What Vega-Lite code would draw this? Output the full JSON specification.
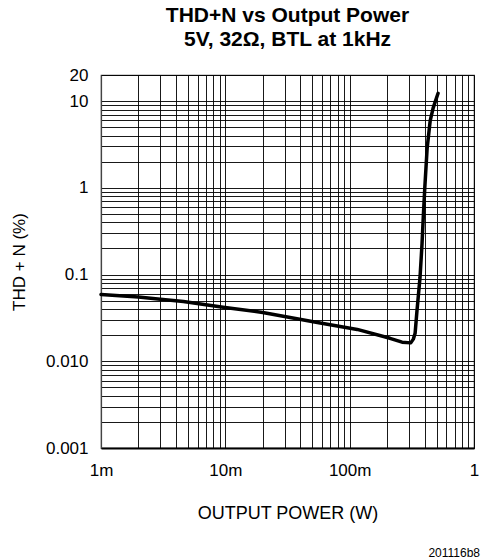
{
  "$schema": "https://vega.github.io/schema/vega-lite/v6.json",
  "width": 373,
  "height": 373,
  "autosize": {"type": "none"},
  "padding": {"left": 101, "top": 75, "right": 11, "bottom": 112},
  "background": "white",
  "config": {
    "font": "Liberation Sans",
    "view": {"stroke": "#444", "strokeWidth": 1.2}
  },
  "title": {
    "text": ["THD+N vs Output Power", "5V, 32Ω, BTL at 1kHz"],
    "font": "Liberation Sans",
    "fontSize": 21,
    "fontWeight": "bold",
    "color": "#000",
    "anchor": "middle",
    "frame": "group",
    "lineHeight": 24,
    "offset": 16
  },
  "datasets": {
    "thd": [
      {"power": 0.001, "thdn": 0.059},
      {"power": 0.002, "thdn": 0.055},
      {"power": 0.003, "thdn": 0.052},
      {"power": 0.0046, "thdn": 0.049},
      {"power": 0.0096, "thdn": 0.042},
      {"power": 0.02, "thdn": 0.0366},
      {"power": 0.055, "thdn": 0.028},
      {"power": 0.115, "thdn": 0.0233},
      {"power": 0.211, "thdn": 0.0184},
      {"power": 0.264, "thdn": 0.0166},
      {"power": 0.31, "thdn": 0.0163},
      {"power": 0.325, "thdn": 0.018},
      {"power": 0.336, "thdn": 0.021},
      {"power": 0.348, "thdn": 0.0386},
      {"power": 0.368, "thdn": 0.0925},
      {"power": 0.382, "thdn": 0.227},
      {"power": 0.392, "thdn": 0.5},
      {"power": 0.402, "thdn": 1.0},
      {"power": 0.42, "thdn": 2.88},
      {"power": 0.444, "thdn": 5.9},
      {"power": 0.469, "thdn": 8.3},
      {"power": 0.514, "thdn": 12.3}
    ],
    "code": [
      {"power": 1, "thdn": 0.001, "label": "201116b8"}
    ]
  },
  "layer": [
    {
      "data": {"name": "thd"},
      "mark": {"type": "line", "color": "#000", "strokeWidth": 3.5, "strokeJoin": "round", "strokeCap": "round"},
      "encoding": {
        "x": {
          "field": "power",
          "type": "quantitative",
          "scale": {"type": "log", "domain": [0.001, 1], "nice": false},
          "axis": {
            "title": "OUTPUT POWER (W)",
            "titleFont": "Liberation Sans",
            "titleFontSize": 18,
            "titleFontWeight": "normal",
            "titleColor": "#000",
            "titlePadding": 26,
            "values": [0.001, 0.002, 0.003, 0.004, 0.005, 0.006, 0.007, 0.008, 0.009, 0.01, 0.02, 0.03, 0.04, 0.05, 0.06, 0.07, 0.08, 0.09, 0.1, 0.2, 0.3, 0.4, 0.5, 0.6, 0.7, 0.8, 0.9, 1],
            "labelExpr": "datum.value == 0.001 ? '1m' : datum.value == 0.01 ? '10m' : datum.value == 0.1 ? '100m' : datum.value == 1 ? '1' : ''",
            "labelOverlap": false,
            "labelFlush": false,
            "labelBound": false,
            "labelFontSize": 17,
            "labelColor": "#000",
            "labelPadding": 14,
            "ticks": false,
            "domain": true,
            "domainColor": "#000",
            "domainWidth": 2,
            "grid": true,
            "gridColor": "#000",
            "gridOpacity": 0.9,
            "gridWidth": 1
          }
        },
        "y": {
          "field": "thdn",
          "type": "quantitative",
          "scale": {"type": "log", "domain": [0.001, 20], "nice": false},
          "axis": {
            "title": "THD + N (%)",
            "titleFont": "Liberation Sans",
            "titleFontSize": 17,
            "titleFontWeight": "normal",
            "titleColor": "#000",
            "titlePadding": 17,
            "values": [0.001, 0.002, 0.003, 0.004, 0.005, 0.006, 0.007, 0.008, 0.009, 0.01, 0.02, 0.03, 0.04, 0.05, 0.06, 0.07, 0.08, 0.09, 0.1, 0.2, 0.3, 0.4, 0.5, 0.6, 0.7, 0.8, 0.9, 1, 2, 3, 4, 5, 6, 7, 8, 9, 10, 20],
            "labelExpr": "datum.value == 0.001 ? '0.001' : datum.value == 0.01 ? '0.010' : datum.value == 0.1 ? '0.1' : datum.value == 1 ? '1' : datum.value == 10 ? '10' : datum.value == 20 ? '20' : ''",
            "labelOverlap": false,
            "labelFlush": false,
            "labelBound": false,
            "labelFontSize": 17,
            "labelColor": "#000",
            "labelPadding": 13,
            "ticks": false,
            "domain": true,
            "domainColor": "#444",
            "domainWidth": 1.2,
            "grid": true,
            "gridColor": "#000",
            "gridOpacity": 0.9,
            "gridWidth": 1
          }
        }
      }
    },
    {
      "data": {"name": "code"},
      "mark": {"type": "text", "align": "right", "baseline": "alphabetic", "fontSize": 12, "color": "#000", "dx": 6, "dy": 109},
      "encoding": {
        "x": {"field": "power", "type": "quantitative"},
        "y": {"field": "thdn", "type": "quantitative"},
        "text": {"field": "label"}
      }
    }
  ]
}
